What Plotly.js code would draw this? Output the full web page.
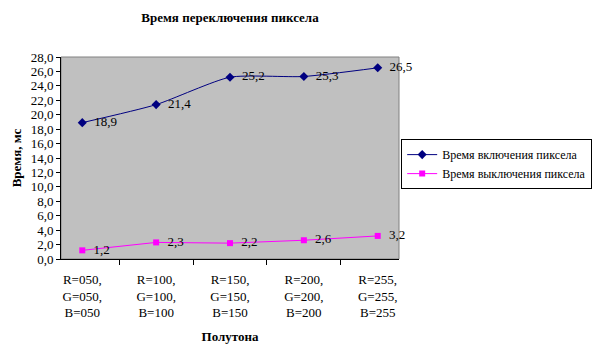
<!DOCTYPE html>
<html><head><meta charset="utf-8">
<script src="https://cdn.plot.ly/plotly-3.0.1.min.js"></script>
<style>html,body{margin:0;padding:0;background:#fff}#chart{width:597px;height:354px}</style>
</head><body><div id="chart"></div>
<script>
const categories = ["R=050,<br>G=050,<br>B=050","R=100,<br>G=100,<br>B=100","R=150,<br>G=150,<br>B=150","R=200,<br>G=200,<br>B=200","R=255,<br>G=255,<br>B=255"];
const onTimes = [18.9, 21.4, 25.2, 25.3, 26.5];
const offTimes = [1.2, 2.3, 2.2, 2.6, 3.2];
const seriesNames = ["Время включения пиксела", "Время выключения пиксела"];
const serif = "Liberation Serif";

const fmt = v => '  ' + v.toFixed(1).replace('.', ',');
const traces = [
  {x: categories, y: onTimes, name: seriesNames[0], type: 'scatter', mode: 'lines+markers+text',
   line: {color: '#000080', width: 1, shape: 'spline', smoothing: 0.6},
   marker: {symbol: 'diamond', size: 7, color: '#000080'},
   text: onTimes.map(fmt), textposition: 'middle right', textfont: {family: serif, size: 13, color: '#000'},
   cliponaxis: false, hoverinfo: 'none'},
  {x: categories, y: offTimes, name: seriesNames[1], type: 'scatter', mode: 'lines+markers+text',
   line: {color: '#FF00FF', width: 1},
   marker: {symbol: 'square', size: 6, color: '#FF00FF'},
   text: offTimes.map(fmt), textposition: 'middle right', textfont: {family: serif, size: 13, color: '#000'},
   cliponaxis: false, hoverinfo: 'none'}
];

const layout = {
  width: 597, height: 354,
  margin: {l: 61, r: 198, t: 57, b: 95, pad: 0},
  paper_bgcolor: '#fff', plot_bgcolor: '#C0C0C0',
  separators: ', ',
  font: {family: serif, size: 12, color: '#000'},
  title: {text: '<b>Время переключения пиксела</b>', font: {family: serif, size: 13, color: '#000'}, x: 0.5, xref: 'paper', y: 0.95, yref: 'container', yanchor: 'middle'},
  showlegend: true,
  legend: {xref: 'container', yref: 'container', x: 0.672, xanchor: 'left', y: 0.607, yanchor: 'top',
           bgcolor: '#fff', bordercolor: '#000', borderwidth: 1,
           font: {family: serif, size: 12, color: '#000'}, tracegroupgap: 0, itemwidth: 30},
  xaxis: {type: 'category', tickson: 'boundaries', ticks: 'outside', ticklen: 5, tickcolor: '#000',
          showline: true, linecolor: '#000', linewidth: 1, showgrid: false, zeroline: false,
          tickfont: {family: serif, size: 13, color: '#000'}, ticklabelstandoff: 8,
          title: {text: '<b>Полутона</b>', font: {family: serif, size: 13, color: '#000'}, standoff: 12},
          automargin: false, fixedrange: true},
  yaxis: {range: [0, 28], dtick: 2, tickformat: '.1f', ticks: 'outside', ticklen: 4, tickcolor: '#000',
          showline: true, linecolor: '#000', linewidth: 1, showgrid: false, zeroline: false,
          tickfont: {family: serif, size: 13, color: '#000'},
          title: {text: '<b>Время, мс</b>', font: {family: serif, size: 13, color: '#000'}, standoff: 6},
          automargin: false, fixedrange: true},
  shapes: [{type: 'rect', xref: 'paper', yref: 'paper', x0: 0, x1: 1, y0: 0, y1: 1, line: {color: '#808080', width: 1}, layer: 'below'}]
};
Plotly.newPlot('chart', traces, layout, {staticPlot: true, displayModeBar: false});
</script></body></html>
